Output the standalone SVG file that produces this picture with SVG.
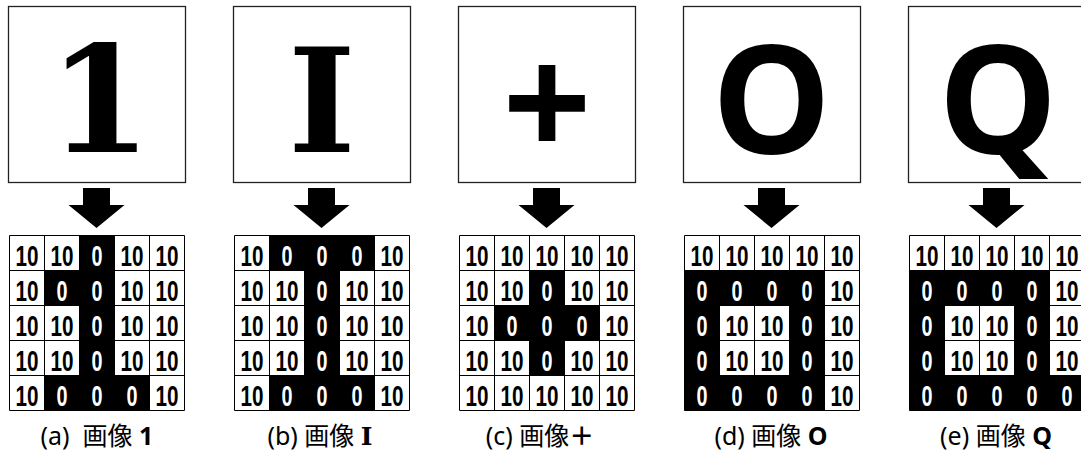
<svg xmlns="http://www.w3.org/2000/svg" xmlns:xlink="http://www.w3.org/1999/xlink" width="1081" height="454" viewBox="0 0 1081 454">
<style>
.box{fill:#fff;stroke:#222;stroke-width:1.3}
.bg{fill:#fff}
.blk{fill:#000}
.gl{fill:none;stroke:#000;stroke-width:1}
.n{font-family:"Liberation Sans",Arial,sans-serif;font-weight:bold;font-size:30px;fill:#000;text-anchor:middle}
.z{font-family:"Liberation Sans",Arial,sans-serif;font-weight:bold;font-size:30px;fill:#fff;text-anchor:middle}
.cap{font-family:"Noto Sans","Noto Sans CJK JP",sans-serif;font-size:25px;fill:#000;text-anchor:middle}
.bb{font-weight:bold}
.serif{font-family:"DejaVu Serif","Liberation Serif",serif;font-weight:bold;fill:#000;text-anchor:middle}
.sans{font-family:"Open Sans","Noto Sans",sans-serif;font-weight:bold;fill:#000;text-anchor:middle}
.arrow{fill:#000}
</style>
<defs>
<path id="grid" class="gl" d="M0 0H175V175H0Z M35 0V175 M70 0V175 M105 0V175 M140 0V175 M0 35H175 M0 70H175 M0 105H175 M0 140H175"/>
<path id="arr" d="M-13.5 0H13.5V17H28L0 40L-28 17H-13.5Z"/>
</defs>

<g id="connectors">
<use xlink:href="#arr" class="arrow" x="96.5" y="188"/>
<use xlink:href="#arr" class="arrow" x="321.5" y="188"/>
<use xlink:href="#arr" class="arrow" x="546.5" y="188"/>
<use xlink:href="#arr" class="arrow" x="771.5" y="188"/>
<use xlink:href="#arr" class="arrow" x="996.5" y="188"/>
</g>

<g id="panel-a">
<rect class="box" x="8.5" y="6.5" width="177" height="176"/>
<text class="serif" x="100" y="152" font-size="148">1</text>
<g transform="translate(9.5,235.5)">
<rect class="bg" width="175" height="175"/>
<rect class="blk" x="70" y="0" width="35" height="175"/>
<rect class="blk" x="35" y="35" width="35" height="35"/>
<rect class="blk" x="35" y="140" width="105" height="35"/>
<use xlink:href="#grid"/>
<text class="n" x="17.5" y="30" textLength="23" lengthAdjust="spacingAndGlyphs">10</text>
<text class="n" x="52.5" y="30" textLength="23" lengthAdjust="spacingAndGlyphs">10</text>
<text class="z" x="87.5" y="30" textLength="11" lengthAdjust="spacingAndGlyphs">0</text>
<text class="n" x="122.5" y="30" textLength="23" lengthAdjust="spacingAndGlyphs">10</text>
<text class="n" x="157.5" y="30" textLength="23" lengthAdjust="spacingAndGlyphs">10</text>
<text class="n" x="17.5" y="65" textLength="23" lengthAdjust="spacingAndGlyphs">10</text>
<text class="z" x="52.5" y="65" textLength="11" lengthAdjust="spacingAndGlyphs">0</text>
<text class="z" x="87.5" y="65" textLength="11" lengthAdjust="spacingAndGlyphs">0</text>
<text class="n" x="122.5" y="65" textLength="23" lengthAdjust="spacingAndGlyphs">10</text>
<text class="n" x="157.5" y="65" textLength="23" lengthAdjust="spacingAndGlyphs">10</text>
<text class="n" x="17.5" y="100" textLength="23" lengthAdjust="spacingAndGlyphs">10</text>
<text class="n" x="52.5" y="100" textLength="23" lengthAdjust="spacingAndGlyphs">10</text>
<text class="z" x="87.5" y="100" textLength="11" lengthAdjust="spacingAndGlyphs">0</text>
<text class="n" x="122.5" y="100" textLength="23" lengthAdjust="spacingAndGlyphs">10</text>
<text class="n" x="157.5" y="100" textLength="23" lengthAdjust="spacingAndGlyphs">10</text>
<text class="n" x="17.5" y="135" textLength="23" lengthAdjust="spacingAndGlyphs">10</text>
<text class="n" x="52.5" y="135" textLength="23" lengthAdjust="spacingAndGlyphs">10</text>
<text class="z" x="87.5" y="135" textLength="11" lengthAdjust="spacingAndGlyphs">0</text>
<text class="n" x="122.5" y="135" textLength="23" lengthAdjust="spacingAndGlyphs">10</text>
<text class="n" x="157.5" y="135" textLength="23" lengthAdjust="spacingAndGlyphs">10</text>
<text class="n" x="17.5" y="170" textLength="23" lengthAdjust="spacingAndGlyphs">10</text>
<text class="z" x="52.5" y="170" textLength="11" lengthAdjust="spacingAndGlyphs">0</text>
<text class="z" x="87.5" y="170" textLength="11" lengthAdjust="spacingAndGlyphs">0</text>
<text class="z" x="122.5" y="170" textLength="11" lengthAdjust="spacingAndGlyphs">0</text>
<text class="n" x="157.5" y="170" textLength="23" lengthAdjust="spacingAndGlyphs">10</text>
</g>
<text class="cap" x="97" y="445" xml:space="preserve">(a)  画像 <tspan class="bb">1</tspan></text>
</g>

<g id="panel-b">
<rect class="box" x="233.5" y="6.5" width="177" height="176"/>
<text class="serif" x="322" y="152" font-size="145">I</text>
<g transform="translate(234.5,235.5)">
<rect class="bg" width="175" height="175"/>
<rect class="blk" x="70" y="0" width="35" height="175"/>
<rect class="blk" x="35" y="0" width="105" height="35"/>
<rect class="blk" x="35" y="140" width="105" height="35"/>
<use xlink:href="#grid"/>
<text class="n" x="17.5" y="30" textLength="23" lengthAdjust="spacingAndGlyphs">10</text>
<text class="z" x="52.5" y="30" textLength="11" lengthAdjust="spacingAndGlyphs">0</text>
<text class="z" x="87.5" y="30" textLength="11" lengthAdjust="spacingAndGlyphs">0</text>
<text class="z" x="122.5" y="30" textLength="11" lengthAdjust="spacingAndGlyphs">0</text>
<text class="n" x="157.5" y="30" textLength="23" lengthAdjust="spacingAndGlyphs">10</text>
<text class="n" x="17.5" y="65" textLength="23" lengthAdjust="spacingAndGlyphs">10</text>
<text class="n" x="52.5" y="65" textLength="23" lengthAdjust="spacingAndGlyphs">10</text>
<text class="z" x="87.5" y="65" textLength="11" lengthAdjust="spacingAndGlyphs">0</text>
<text class="n" x="122.5" y="65" textLength="23" lengthAdjust="spacingAndGlyphs">10</text>
<text class="n" x="157.5" y="65" textLength="23" lengthAdjust="spacingAndGlyphs">10</text>
<text class="n" x="17.5" y="100" textLength="23" lengthAdjust="spacingAndGlyphs">10</text>
<text class="n" x="52.5" y="100" textLength="23" lengthAdjust="spacingAndGlyphs">10</text>
<text class="z" x="87.5" y="100" textLength="11" lengthAdjust="spacingAndGlyphs">0</text>
<text class="n" x="122.5" y="100" textLength="23" lengthAdjust="spacingAndGlyphs">10</text>
<text class="n" x="157.5" y="100" textLength="23" lengthAdjust="spacingAndGlyphs">10</text>
<text class="n" x="17.5" y="135" textLength="23" lengthAdjust="spacingAndGlyphs">10</text>
<text class="n" x="52.5" y="135" textLength="23" lengthAdjust="spacingAndGlyphs">10</text>
<text class="z" x="87.5" y="135" textLength="11" lengthAdjust="spacingAndGlyphs">0</text>
<text class="n" x="122.5" y="135" textLength="23" lengthAdjust="spacingAndGlyphs">10</text>
<text class="n" x="157.5" y="135" textLength="23" lengthAdjust="spacingAndGlyphs">10</text>
<text class="n" x="17.5" y="170" textLength="23" lengthAdjust="spacingAndGlyphs">10</text>
<text class="z" x="52.5" y="170" textLength="11" lengthAdjust="spacingAndGlyphs">0</text>
<text class="z" x="87.5" y="170" textLength="11" lengthAdjust="spacingAndGlyphs">0</text>
<text class="z" x="122.5" y="170" textLength="11" lengthAdjust="spacingAndGlyphs">0</text>
<text class="n" x="157.5" y="170" textLength="23" lengthAdjust="spacingAndGlyphs">10</text>
</g>
<text class="cap" x="320" y="445">(b) 画像 <tspan font-family="DejaVu Serif, Liberation Serif, serif" font-weight="bold">I</tspan></text>
</g>

<g id="panel-c">
<rect class="box" x="458.5" y="6.5" width="177" height="176"/>
<text class="sans" x="547" y="158" font-size="156" font-family="Liberation Sans, Arial, sans-serif">+</text>
<g transform="translate(459.5,235.5)">
<rect class="bg" width="175" height="175"/>
<rect class="blk" x="70" y="35" width="35" height="105"/>
<rect class="blk" x="35" y="70" width="105" height="35"/>
<use xlink:href="#grid"/>
<text class="n" x="17.5" y="30" textLength="23" lengthAdjust="spacingAndGlyphs">10</text>
<text class="n" x="52.5" y="30" textLength="23" lengthAdjust="spacingAndGlyphs">10</text>
<text class="n" x="87.5" y="30" textLength="23" lengthAdjust="spacingAndGlyphs">10</text>
<text class="n" x="122.5" y="30" textLength="23" lengthAdjust="spacingAndGlyphs">10</text>
<text class="n" x="157.5" y="30" textLength="23" lengthAdjust="spacingAndGlyphs">10</text>
<text class="n" x="17.5" y="65" textLength="23" lengthAdjust="spacingAndGlyphs">10</text>
<text class="n" x="52.5" y="65" textLength="23" lengthAdjust="spacingAndGlyphs">10</text>
<text class="z" x="87.5" y="65" textLength="11" lengthAdjust="spacingAndGlyphs">0</text>
<text class="n" x="122.5" y="65" textLength="23" lengthAdjust="spacingAndGlyphs">10</text>
<text class="n" x="157.5" y="65" textLength="23" lengthAdjust="spacingAndGlyphs">10</text>
<text class="n" x="17.5" y="100" textLength="23" lengthAdjust="spacingAndGlyphs">10</text>
<text class="z" x="52.5" y="100" textLength="11" lengthAdjust="spacingAndGlyphs">0</text>
<text class="z" x="87.5" y="100" textLength="11" lengthAdjust="spacingAndGlyphs">0</text>
<text class="z" x="122.5" y="100" textLength="11" lengthAdjust="spacingAndGlyphs">0</text>
<text class="n" x="157.5" y="100" textLength="23" lengthAdjust="spacingAndGlyphs">10</text>
<text class="n" x="17.5" y="135" textLength="23" lengthAdjust="spacingAndGlyphs">10</text>
<text class="n" x="52.5" y="135" textLength="23" lengthAdjust="spacingAndGlyphs">10</text>
<text class="z" x="87.5" y="135" textLength="11" lengthAdjust="spacingAndGlyphs">0</text>
<text class="n" x="122.5" y="135" textLength="23" lengthAdjust="spacingAndGlyphs">10</text>
<text class="n" x="157.5" y="135" textLength="23" lengthAdjust="spacingAndGlyphs">10</text>
<text class="n" x="17.5" y="170" textLength="23" lengthAdjust="spacingAndGlyphs">10</text>
<text class="n" x="52.5" y="170" textLength="23" lengthAdjust="spacingAndGlyphs">10</text>
<text class="n" x="87.5" y="170" textLength="23" lengthAdjust="spacingAndGlyphs">10</text>
<text class="n" x="122.5" y="170" textLength="23" lengthAdjust="spacingAndGlyphs">10</text>
<text class="n" x="157.5" y="170" textLength="23" lengthAdjust="spacingAndGlyphs">10</text>
</g>
<text class="cap" x="540" y="445">(c) 画像<tspan class="bb">＋</tspan></text>
</g>

<g id="panel-d">
<rect class="box" x="683.5" y="6.5" width="177" height="176"/>
<text class="sans" x="771.5" y="154" font-size="150">O</text>
<g transform="translate(684.5,235.5)">
<rect class="bg" width="175" height="175"/>
<rect class="blk" x="0" y="35" width="140" height="140"/>
<rect class="bg" x="35" y="70" width="70" height="70"/>
<use xlink:href="#grid"/>
<text class="n" x="17.5" y="30" textLength="23" lengthAdjust="spacingAndGlyphs">10</text>
<text class="n" x="52.5" y="30" textLength="23" lengthAdjust="spacingAndGlyphs">10</text>
<text class="n" x="87.5" y="30" textLength="23" lengthAdjust="spacingAndGlyphs">10</text>
<text class="n" x="122.5" y="30" textLength="23" lengthAdjust="spacingAndGlyphs">10</text>
<text class="n" x="157.5" y="30" textLength="23" lengthAdjust="spacingAndGlyphs">10</text>
<text class="z" x="17.5" y="65" textLength="11" lengthAdjust="spacingAndGlyphs">0</text>
<text class="z" x="52.5" y="65" textLength="11" lengthAdjust="spacingAndGlyphs">0</text>
<text class="z" x="87.5" y="65" textLength="11" lengthAdjust="spacingAndGlyphs">0</text>
<text class="z" x="122.5" y="65" textLength="11" lengthAdjust="spacingAndGlyphs">0</text>
<text class="n" x="157.5" y="65" textLength="23" lengthAdjust="spacingAndGlyphs">10</text>
<text class="z" x="17.5" y="100" textLength="11" lengthAdjust="spacingAndGlyphs">0</text>
<text class="n" x="52.5" y="100" textLength="23" lengthAdjust="spacingAndGlyphs">10</text>
<text class="n" x="87.5" y="100" textLength="23" lengthAdjust="spacingAndGlyphs">10</text>
<text class="z" x="122.5" y="100" textLength="11" lengthAdjust="spacingAndGlyphs">0</text>
<text class="n" x="157.5" y="100" textLength="23" lengthAdjust="spacingAndGlyphs">10</text>
<text class="z" x="17.5" y="135" textLength="11" lengthAdjust="spacingAndGlyphs">0</text>
<text class="n" x="52.5" y="135" textLength="23" lengthAdjust="spacingAndGlyphs">10</text>
<text class="n" x="87.5" y="135" textLength="23" lengthAdjust="spacingAndGlyphs">10</text>
<text class="z" x="122.5" y="135" textLength="11" lengthAdjust="spacingAndGlyphs">0</text>
<text class="n" x="157.5" y="135" textLength="23" lengthAdjust="spacingAndGlyphs">10</text>
<text class="z" x="17.5" y="170" textLength="11" lengthAdjust="spacingAndGlyphs">0</text>
<text class="z" x="52.5" y="170" textLength="11" lengthAdjust="spacingAndGlyphs">0</text>
<text class="z" x="87.5" y="170" textLength="11" lengthAdjust="spacingAndGlyphs">0</text>
<text class="z" x="122.5" y="170" textLength="11" lengthAdjust="spacingAndGlyphs">0</text>
<text class="n" x="157.5" y="170" textLength="23" lengthAdjust="spacingAndGlyphs">10</text>
</g>
<text class="cap" x="771" y="445">(d) 画像 <tspan class="bb">O</tspan></text>
</g>

<g id="panel-e">
<rect class="box" x="908.5" y="6.5" width="177" height="176"/>
<text class="sans" x="998" y="154" font-size="150">Q</text>
<g transform="translate(909.5,235.5)">
<rect class="bg" width="175" height="175"/>
<rect class="blk" x="0" y="35" width="140" height="140"/>
<rect class="blk" x="140" y="140" width="35" height="35"/>
<rect class="bg" x="35" y="70" width="70" height="70"/>
<use xlink:href="#grid"/>
<text class="n" x="17.5" y="30" textLength="23" lengthAdjust="spacingAndGlyphs">10</text>
<text class="n" x="52.5" y="30" textLength="23" lengthAdjust="spacingAndGlyphs">10</text>
<text class="n" x="87.5" y="30" textLength="23" lengthAdjust="spacingAndGlyphs">10</text>
<text class="n" x="122.5" y="30" textLength="23" lengthAdjust="spacingAndGlyphs">10</text>
<text class="n" x="157.5" y="30" textLength="23" lengthAdjust="spacingAndGlyphs">10</text>
<text class="z" x="17.5" y="65" textLength="11" lengthAdjust="spacingAndGlyphs">0</text>
<text class="z" x="52.5" y="65" textLength="11" lengthAdjust="spacingAndGlyphs">0</text>
<text class="z" x="87.5" y="65" textLength="11" lengthAdjust="spacingAndGlyphs">0</text>
<text class="z" x="122.5" y="65" textLength="11" lengthAdjust="spacingAndGlyphs">0</text>
<text class="n" x="157.5" y="65" textLength="23" lengthAdjust="spacingAndGlyphs">10</text>
<text class="z" x="17.5" y="100" textLength="11" lengthAdjust="spacingAndGlyphs">0</text>
<text class="n" x="52.5" y="100" textLength="23" lengthAdjust="spacingAndGlyphs">10</text>
<text class="n" x="87.5" y="100" textLength="23" lengthAdjust="spacingAndGlyphs">10</text>
<text class="z" x="122.5" y="100" textLength="11" lengthAdjust="spacingAndGlyphs">0</text>
<text class="n" x="157.5" y="100" textLength="23" lengthAdjust="spacingAndGlyphs">10</text>
<text class="z" x="17.5" y="135" textLength="11" lengthAdjust="spacingAndGlyphs">0</text>
<text class="n" x="52.5" y="135" textLength="23" lengthAdjust="spacingAndGlyphs">10</text>
<text class="n" x="87.5" y="135" textLength="23" lengthAdjust="spacingAndGlyphs">10</text>
<text class="z" x="122.5" y="135" textLength="11" lengthAdjust="spacingAndGlyphs">0</text>
<text class="n" x="157.5" y="135" textLength="23" lengthAdjust="spacingAndGlyphs">10</text>
<text class="z" x="17.5" y="170" textLength="11" lengthAdjust="spacingAndGlyphs">0</text>
<text class="z" x="52.5" y="170" textLength="11" lengthAdjust="spacingAndGlyphs">0</text>
<text class="z" x="87.5" y="170" textLength="11" lengthAdjust="spacingAndGlyphs">0</text>
<text class="z" x="122.5" y="170" textLength="11" lengthAdjust="spacingAndGlyphs">0</text>
<text class="z" x="157.5" y="170" textLength="11" lengthAdjust="spacingAndGlyphs">0</text>
</g>
<text class="cap" x="996" y="445">(e) 画像 <tspan class="bb">Q</tspan></text>
</g>
</svg>
